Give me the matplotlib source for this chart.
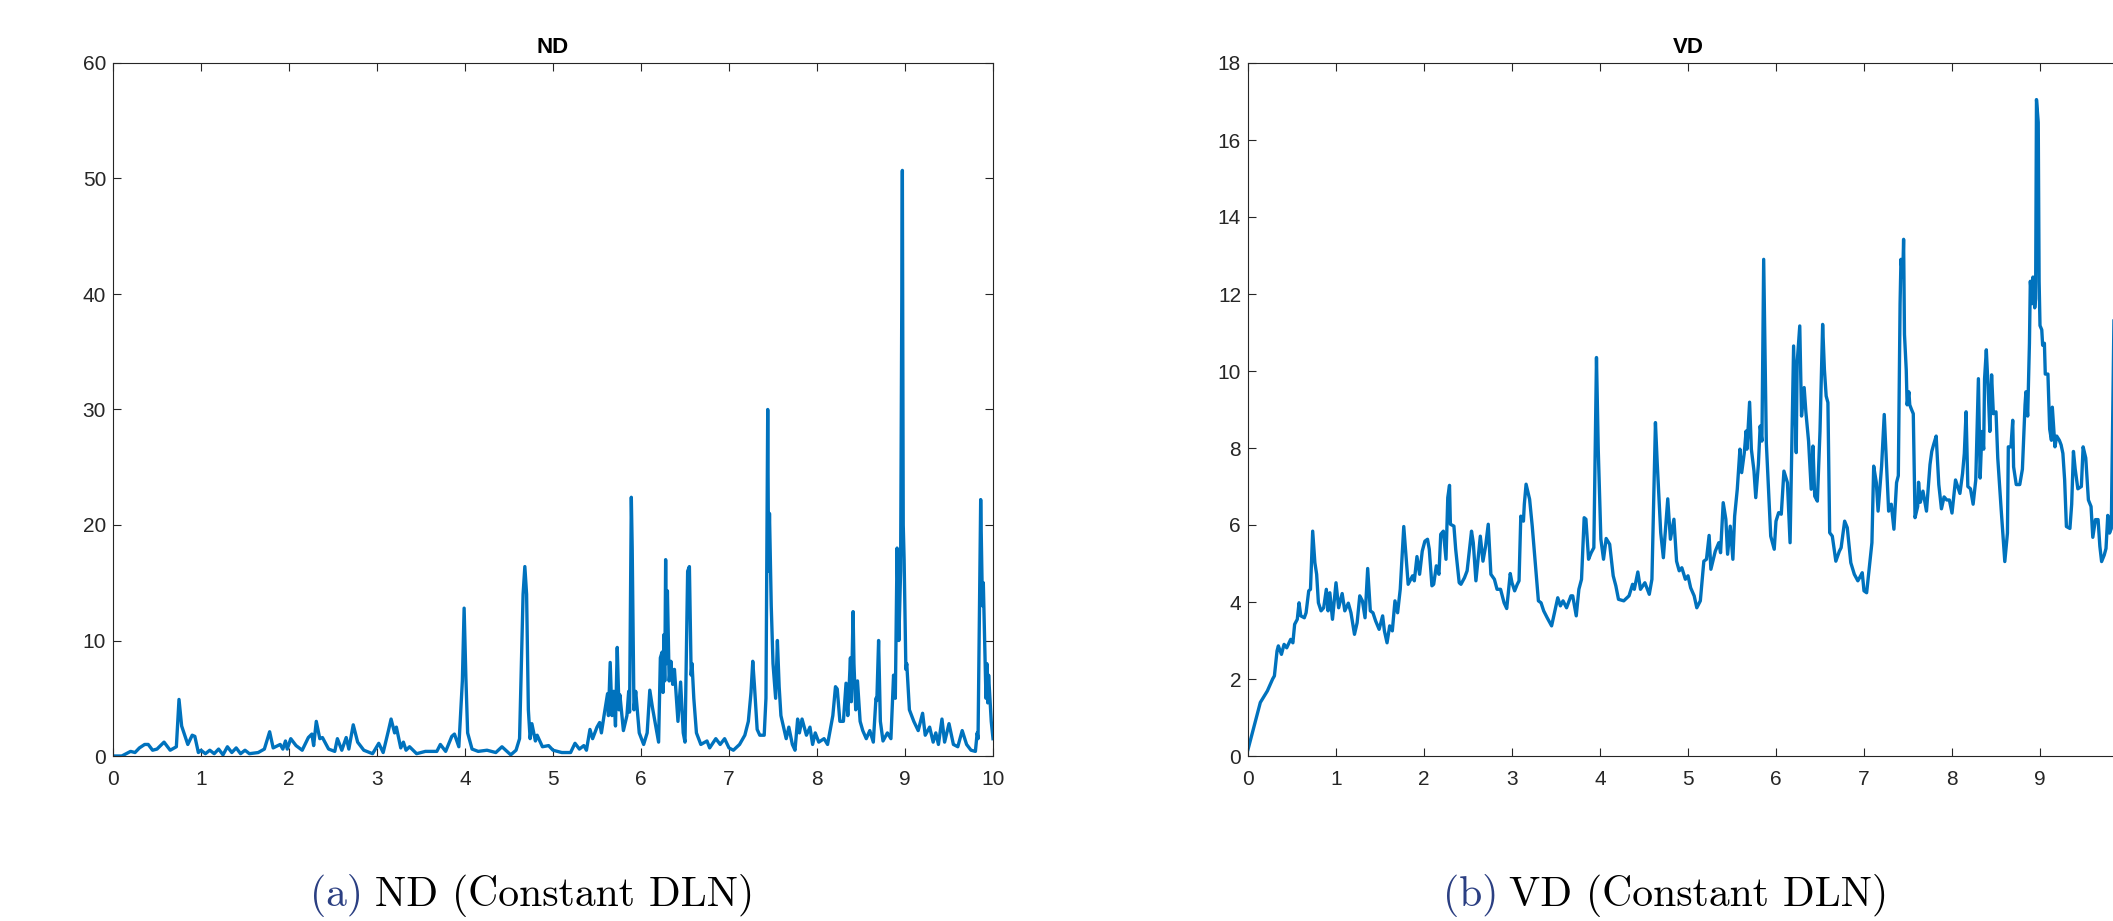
import matplotlib
matplotlib.use("Agg")
import matplotlib.pyplot as plt

# ---------------- data ----------------
nd_t = [0, 0.1, 0.15, 0.2, 0.25, 0.3, 0.36, 0.4, 0.45, 0.5,
        0.58, 0.65, 0.72, 0.75, 0.78, 0.85, 0.9, 0.93, 0.97, 1.0,
        1.05, 1.1, 1.15, 1.2, 1.25, 1.3, 1.35, 1.4, 1.45, 1.5,
        1.55, 1.65, 1.72, 1.78, 1.82, 1.9, 1.93, 1.96, 1.98, 2.02,
        2.08, 2.15, 2.22, 2.26, 2.28, 2.31, 2.35, 2.38, 2.45, 2.52,
        2.55, 2.6, 2.65, 2.68, 2.73, 2.78, 2.85, 2.95, 3.02, 3.07,
        3.13, 3.16, 3.2, 3.22, 3.27, 3.3, 3.33, 3.37, 3.45, 3.55,
        3.68, 3.72, 3.78, 3.85, 3.88, 3.93, 3.97, 3.99, 4.01, 4.03,
        4.08, 4.15, 4.25, 4.35, 4.42, 4.52, 4.58, 4.62, 4.66, 4.68,
        4.70, 4.72, 4.74, 4.76, 4.80, 4.82, 4.88, 4.95, 5.0, 5.1,
        5.2, 5.25, 5.3, 5.35, 5.38, 5.42, 5.45, 5.5, 5.53, 5.55,
        5.58, 5.62, 5.63, 5.65, 5.67, 5.69, 5.71, 5.73, 5.75, 5.76,
        5.8, 5.84, 5.86, 5.87, 5.89, 5.9, 5.92, 5.94, 5.98, 6.03,
        6.07, 6.1, 6.13, 6.17, 6.2, 6.22, 6.24, 6.25, 6.26, 6.27,
        6.28, 6.29, 6.3, 6.32, 6.34, 6.36, 6.38, 6.42, 6.45, 6.48,
        6.5, 6.53, 6.55, 6.57, 6.58, 6.6, 6.63, 6.68, 6.75, 6.78,
        6.85, 6.9, 6.95, 7.0, 7.05, 7.12, 7.18, 7.22, 7.25, 7.27,
        7.29, 7.32, 7.35, 7.4, 7.42, 7.44, 7.45, 7.46, 7.48, 7.5,
        7.53, 7.55, 7.57, 7.59, 7.62, 7.65, 7.68, 7.72, 7.75, 7.78,
        7.8, 7.83, 7.88, 7.92, 7.95, 7.98, 8.02, 8.08, 8.12, 8.18,
        8.21, 8.23, 8.26, 8.3, 8.33, 8.35, 8.38, 8.39, 8.41, 8.42,
        8.44, 8.46, 8.49, 8.52, 8.56, 8.6, 8.64, 8.67, 8.68, 8.7,
        8.72, 8.75, 8.8, 8.84, 8.87, 8.89, 8.91, 8.93, 8.95, 8.97,
        8.98, 8.99, 9.01, 9.02, 9.05, 9.1, 9.15, 9.2, 9.23, 9.28,
        9.32, 9.35, 9.38, 9.42, 9.45, 9.5, 9.55, 9.6, 9.65, 9.7,
        9.75, 9.8, 9.82, 9.83, 9.86, 9.88, 9.89, 9.92, 9.93, 9.94,
        9.95, 9.98, 10.0]
nd_v = [0, 0, 0.2, 0.4, 0.3, 0.7, 1.0, 1.0, 0.5, 0.6,
        1.2, 0.5, 0.8, 4.9, 2.6, 1.0, 1.8, 1.7, 0.3, 0.5,
        0.2, 0.5, 0.2, 0.6, 0.1, 0.8, 0.3, 0.7, 0.2, 0.5,
        0.2, 0.3, 0.6, 2.1, 0.7, 1.0, 0.6, 1.3, 0.6, 1.5,
        0.9, 0.5, 1.6, 1.9, 0.9, 3.0, 1.5, 1.6, 0.6, 0.4,
        1.5, 0.5, 1.6, 0.6, 2.7, 1.2, 0.5, 0.2, 1.1, 0.3,
        2.2, 3.2, 2.0, 2.5, 0.7, 1.2, 0.5, 0.8, 0.2, 0.4,
        0.4, 1.0, 0.4, 1.7, 1.9, 0.8, 6.5, 12.8, 6.8, 2.0,
        0.6, 0.4, 0.5, 0.3, 0.8, 0.1, 0.5, 1.5, 14.0, 16.4,
        14.0, 4.0, 1.5, 2.8, 1.3, 1.8, 0.8, 0.9, 0.5, 0.3,
        0.3, 1.1, 0.6, 0.9, 0.5, 2.3, 1.5, 2.5, 2.9, 2.0,
        3.5, 5.4, 3.5, 8.1, 3.5, 5.6, 2.6, 9.4, 4.0, 5.3,
        2.2, 3.5, 5.6, 3.8, 22.4, 18.0, 4.0, 5.6, 2.0, 1.0,
        2.0, 5.7, 4.2, 2.5, 1.2, 8.5, 9.0, 5.5, 10.5, 6.5,
        17.0, 8.0, 14.3, 6.5, 8.2, 6.2, 7.5, 3.0, 6.4, 2.0,
        1.2, 16.0, 16.4, 7.0, 8.0, 5.0, 2.0, 1.0, 1.3, 0.7,
        1.5, 1.0, 1.5, 0.7, 0.5, 1.0, 1.8, 3.0, 5.5, 8.2,
        6.0, 2.3, 1.8, 1.8, 5.0, 30.0, 16.0, 21.0, 13.0, 8.0,
        5.0, 10.0, 6.0, 3.5, 2.5, 1.5, 2.5, 1.0, 0.5, 3.2,
        2.0, 3.2, 1.8, 2.5, 1.0, 2.0, 1.2, 1.5, 1.0, 3.5,
        6.0, 5.8, 3.0, 3.0, 6.3, 3.5, 8.5, 4.7, 12.5, 8.0,
        4.0, 6.5, 3.0, 2.2, 1.5, 2.2, 1.2, 5.0, 4.8, 10.0,
        3.0, 1.3, 2.0, 1.5, 7.0, 5.0, 18.0, 10.0, 16.0, 50.7,
        20.0, 17.0, 7.5, 8.0, 4.0, 3.0, 2.2, 3.7, 1.8, 2.5,
        1.2, 2.0, 1.0, 3.2, 1.2, 2.8, 1.0, 0.8, 2.2, 1.0,
        0.5, 0.4, 2.0, 1.5, 22.2, 13.0, 15.0, 5.0, 8.0, 4.6,
        7.0, 3.0, 1.5]

vd_t = [0, 0.07, 0.14, 0.22, 0.28, 0.3, 0.33, 0.345, 0.38, 0.41,
        0.44, 0.485, 0.51, 0.53, 0.56, 0.58, 0.6, 0.64, 0.66, 0.69,
        0.71, 0.735, 0.76, 0.78, 0.8, 0.83, 0.86, 0.89, 0.91, 0.93,
        0.96, 1.0, 1.03, 1.07, 1.1, 1.14, 1.17, 1.21, 1.24, 1.27,
        1.3, 1.33, 1.36, 1.39, 1.42, 1.45, 1.49, 1.53, 1.55, 1.58,
        1.61, 1.64, 1.67, 1.7, 1.73, 1.77, 1.82, 1.87, 1.89, 1.92,
        1.95, 1.98, 2.01, 2.04, 2.06, 2.09, 2.11, 2.14, 2.17, 2.19,
        2.22, 2.25, 2.27, 2.29, 2.3, 2.34, 2.36, 2.4, 2.42, 2.46,
        2.49, 2.54, 2.56, 2.59, 2.61, 2.64, 2.67, 2.7, 2.73, 2.76,
        2.8, 2.83, 2.87, 2.91, 2.94, 2.98, 3.0, 3.03, 3.06, 3.08,
        3.1, 3.13, 3.14, 3.16, 3.2, 3.23, 3.27, 3.3, 3.33, 3.36,
        3.4, 3.45, 3.5, 3.52, 3.55, 3.58, 3.62, 3.67, 3.69, 3.73,
        3.76, 3.79, 3.82, 3.84, 3.87, 3.9, 3.93, 3.96, 3.98, 4.01,
        4.04, 4.07, 4.11, 4.15, 4.18, 4.21, 4.27, 4.33, 4.37, 4.39,
        4.43, 4.46, 4.51, 4.56, 4.59, 4.63, 4.65, 4.69, 4.72, 4.77,
        4.8, 4.84, 4.87, 4.9, 4.93, 4.97, 5.0, 5.03, 5.07, 5.1,
        5.14, 5.18, 5.21, 5.24, 5.26, 5.31, 5.35, 5.37, 5.4, 5.43,
        5.45, 5.48, 5.51, 5.53, 5.56, 5.59, 5.61, 5.64, 5.66, 5.67,
        5.7, 5.72, 5.75, 5.77, 5.8, 5.82, 5.84, 5.86, 5.89, 5.92,
        5.94, 5.98, 6.0, 6.03, 6.06, 6.09, 6.13, 6.16, 6.2, 6.23,
        6.24, 6.27, 6.29, 6.32, 6.34, 6.37, 6.4, 6.42, 6.44, 6.47,
        6.5, 6.53, 6.55, 6.57, 6.59, 6.61, 6.64, 6.68, 6.72, 6.74,
        6.78, 6.81, 6.85, 6.89, 6.93, 6.95, 6.98, 7.0, 7.03, 7.06,
        7.09, 7.11, 7.14, 7.16, 7.2, 7.23, 7.28, 7.31, 7.34, 7.37,
        7.39, 7.41, 7.42, 7.44, 7.45, 7.46, 7.48, 7.49, 7.51, 7.52,
        7.54, 7.56, 7.58, 7.61, 7.62, 7.64, 7.67, 7.71, 7.75, 7.77,
        7.79, 7.82, 7.85, 7.88, 7.91, 7.94, 7.97, 8.0, 8.04, 8.09,
        8.12, 8.14, 8.16, 8.18, 8.21, 8.24, 8.27, 8.3, 8.32, 8.34,
        8.36, 8.37, 8.39, 8.41, 8.43, 8.45, 8.47, 8.5, 8.52, 8.56,
        8.6, 8.63, 8.64, 8.67, 8.69, 8.7, 8.73, 8.77, 8.8, 8.83,
        8.84, 8.86, 8.88, 8.89, 8.91, 8.92, 8.94, 8.95, 8.96, 8.98,
        8.99, 9.0, 9.02, 9.03, 9.05, 9.06, 9.09, 9.11, 9.13, 9.14,
        9.17, 9.19, 9.22, 9.24, 9.26, 9.28, 9.3, 9.34, 9.36, 9.38,
        9.4, 9.43, 9.47, 9.49, 9.52, 9.55, 9.58, 9.6, 9.63, 9.66,
        9.68, 9.7, 9.73, 9.75, 9.77, 9.79, 9.81, 9.84]
vd_v = [0.17, 0.78, 1.39, 1.69, 2.0, 2.08, 2.73, 2.86, 2.64, 2.9,
        2.81, 3.03, 2.94, 3.42, 3.55, 3.98, 3.64, 3.59, 3.72, 4.29,
        4.33, 5.84, 5.02, 4.72, 3.98, 3.77, 3.85, 4.33, 3.77, 4.24,
        3.55, 4.5, 3.85, 4.22, 3.77, 3.97, 3.72, 3.16, 3.46, 4.16,
        4.03, 3.59, 4.87, 3.77, 3.72, 3.51, 3.29, 3.64, 3.25, 2.94,
        3.38, 3.25, 4.03, 3.72, 4.33, 5.96, 4.46, 4.68, 4.55, 5.18,
        4.72, 5.32, 5.58, 5.63, 5.37, 4.42, 4.46, 4.94, 4.72, 5.76,
        5.84, 5.11, 6.71, 7.03, 6.02, 5.97, 5.37, 4.5, 4.46, 4.63,
        4.81, 5.84, 5.54, 4.55, 5.02, 5.71, 5.06, 5.45, 6.02, 4.72,
        4.59, 4.33, 4.33, 3.98, 3.83, 4.74, 4.5, 4.29, 4.46, 4.55,
        6.23, 6.1, 6.54, 7.06, 6.67, 5.97, 4.85, 4.03, 3.98, 3.77,
        3.59, 3.38, 3.9, 4.11, 3.9, 4.03, 3.85, 4.16, 4.16, 3.64,
        4.33, 4.59, 6.19, 6.15, 5.11, 5.28, 5.41, 10.35, 7.97, 5.63,
        5.11, 5.65, 5.5, 4.68, 4.42, 4.07, 4.03, 4.16, 4.46, 4.33,
        4.78, 4.33, 4.5, 4.2, 4.59, 8.66, 7.62, 5.8, 5.15, 6.68,
        5.63, 6.15, 5.06, 4.81, 4.89, 4.59, 4.68, 4.37, 4.16, 3.85,
        4.03, 5.06, 5.11, 5.73, 4.85, 5.32, 5.54, 5.28, 6.58, 6.15,
        5.24, 5.97, 5.11, 6.23, 6.93, 7.97, 7.36, 7.88, 8.44, 7.97,
        9.19, 7.97, 7.4, 6.71, 7.58, 8.57, 8.18, 12.9, 8.14, 6.67,
        5.71, 5.37, 6.1, 6.32, 6.28, 7.4, 7.1, 5.54, 10.65, 7.88,
        10.2, 11.17, 8.83, 9.57, 8.92, 8.18, 6.93, 8.05, 6.75, 6.62,
        8.44, 11.21, 10.04, 9.35, 9.18, 5.8, 5.71, 5.06, 5.32, 5.41,
        6.1, 5.93, 5.02, 4.72, 4.55, 4.63, 4.76, 4.29, 4.24, 4.89,
        5.54, 7.53, 7.1, 6.36, 7.53, 8.87, 6.36, 6.54, 5.89, 7.1,
        7.28, 11.75, 12.9, 12.44, 13.42, 10.95, 10.03, 9.12, 9.46, 9.12,
        9.0, 8.89, 6.19, 6.48, 7.11, 6.59, 6.88, 6.36, 7.57, 7.91,
        8.08, 8.31, 7.05, 6.42, 6.73, 6.65, 6.65, 6.31, 7.17, 6.82,
        7.34, 7.86, 8.94, 7.0, 6.94, 6.54, 7.17, 9.8, 7.22, 8.43,
        7.97, 9.8, 10.55, 9.58, 8.43, 9.9, 8.89, 8.94, 7.74, 6.36,
        5.05, 5.79, 8.03, 8.03, 8.72, 7.51, 7.05, 7.05, 7.45, 9.12,
        9.46, 8.83, 10.72, 12.33, 11.75, 12.44, 11.64, 11.87, 17.05, 16.46,
        12.33, 11.18, 11.07, 10.67, 10.72, 9.92, 9.92, 8.49, 8.2, 9.06,
        8.03, 8.31, 8.2, 8.08, 7.86, 7.17, 5.96, 5.91, 6.54, 7.91,
        7.45, 6.94, 7.0, 8.03, 7.74, 6.65, 6.48, 5.68, 6.14, 6.14,
        5.45, 5.05, 5.22, 5.39, 6.25, 5.79, 5.91, 11.3]

titles = ["ND", "VD"]
caption_labels = ["(a)", "(b)"]
caption_texts = ["ND (Constant DLN)", "VD (Constant DLN)"]
x_ticks = list(range(0, 11))
nd_xticklabels = [str(i) for i in x_ticks]
vd_xticklabels = [str(i) for i in x_ticks[:-1]] + [""]  # "10" falls outside the cropped figure
nd_yticks = list(range(0, 61, 10))
vd_yticks = list(range(0, 19, 2))

# ---------------- figure ----------------
W, H = 2113, 921
fig = plt.figure(figsize=(W / 100, H / 100), dpi=100)
fig.patch.set_facecolor("white")

ax_w, ax_h = 880 / W, 693 / H
ax_b = 1 - 756 / H
ax1 = fig.add_axes([113 / W, ax_b, ax_w, ax_h])
ax2 = fig.add_axes([1248 / W, ax_b, ax_w, ax_h])

line_color = "#0072BD"
axis_color = "#262626"
tick_font = ["Liberation Sans", "DejaVu Sans"]

for ax, t, v, title, yt, xl in [(ax1, nd_t, nd_v, titles[0], nd_yticks, nd_xticklabels),
                                (ax2, vd_t, vd_v, titles[1], vd_yticks, vd_xticklabels)]:
    ax.plot(t, v, color=line_color, lw=2.4, solid_joinstyle="round")
    ax.set_xlim(0, 10)
    ax.set_ylim(yt[0], yt[-1])
    ax.set_xticks(x_ticks)
    ax.set_xticklabels(xl)
    ax.set_yticks(yt)
    ax.tick_params(direction="in", length=6, width=0.8, top=True, right=True,
                   colors=axis_color, labelsize=15)
    ax.tick_params(axis="x", pad=10)
    ax.tick_params(axis="y", pad=5)
    for lab in ax.get_xticklabels() + ax.get_yticklabels():
        lab.set_family(tick_font)
    for sp in ax.spines.values():
        sp.set_color(axis_color)
        sp.set_linewidth(0.8)
    ax.set_title(title, fontsize=16, fontweight="bold", pad=7,
                 family=tick_font, color="black")

# ---------------- captions ----------------
cap_y = 1 - 906 / H
label_color = "#2B3F82"
for lx, tx, lab, txt in [(310, 375, caption_labels[0], caption_texts[0]),
                         (1443, 1509, caption_labels[1], caption_texts[1])]:
    fig.text(lx / W, cap_y, lab, color=label_color, fontsize=30,
             family="cmr10", va="baseline", ha="left")
    fig.text(tx / W, cap_y, txt, color="black", fontsize=30,
             family="cmr10", va="baseline", ha="left")

fig.savefig("out.png", dpi=100, facecolor="white")
